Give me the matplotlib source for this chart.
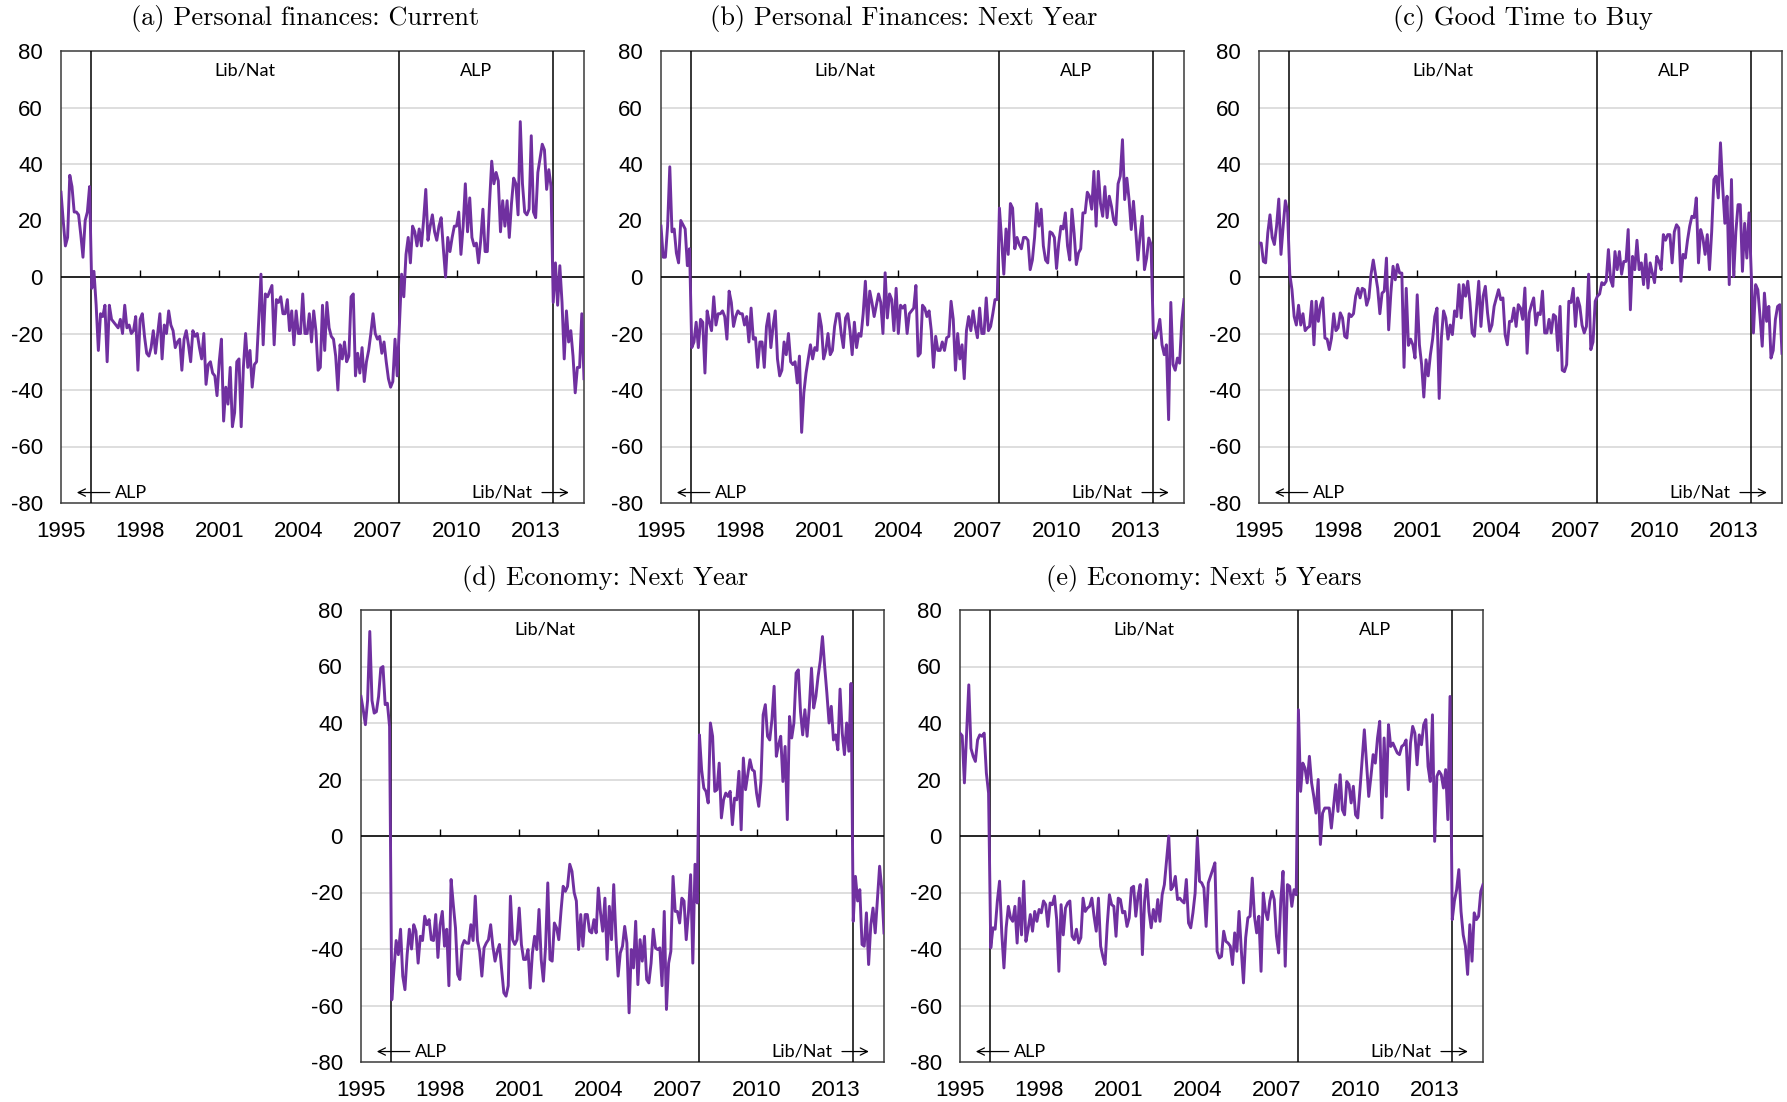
import numpy as np
import matplotlib

matplotlib.use("Agg")

import matplotlib.pyplot as plt

# monthly survey balances (per cent), Jan 1995 onwards
personal_current = [
    30, 20, 11, 14, 36, 32, 23, 23, 22, 15,
    7, 20, 23, 32, -4, 2, -10, -26, -13, -14,
    -10, -30, -10, -15, -16, -17, -18, -15, -20, -10,
    -18, -17, -20, -19, -14, -33, -15, -13, -21, -27,
    -28, -25, -19, -27, -20, -13, -29, -17, -20, -12,
    -17, -19, -25, -23, -22, -33, -22, -19, -24, -30,
    -19, -21, -20, -25, -29, -20, -38, -31, -30, -34,
    -35, -42, -30, -22, -51, -39, -45, -32, -53, -48,
    -30, -29, -53, -32, -20, -32, -26, -39, -31, -30,
    -15, 1, -24, -6, -7, -5, -3, -24, -8, -9,
    -7, -13, -13, -8, -19, -12, -24, -12, -20, -20,
    -6, -20, -20, -13, -23, -12, -19, -33, -32, -10,
    -26, -9, -18, -21, -22, -28, -40, -24, -29, -23,
    -30, -28, -7, -6, -35, -27, -34, -25, -37, -30,
    -26, -20, -13, -20, -22, -21, -27, -23, -30, -36,
    -39, -37, -22, -35, -17, 1, -7, 8, 14, 5,
    18, 16, 11, 17, 11, 20, 31, 13, 18, 22,
    16, 13, 18, 21, 10, 0, 14, 9, 14, 18,
    18, 23, 8, 18, 33, 16, 28, 14, 11, 12,
    5, 13, 24, 9, 9, 26, 41, 33, 37, 34,
    16, 27, 18, 27, 14, 26, 35, 33, 22, 55,
    33, 23, 22, 24, 50, 23, 21, 37, 42, 47,
    45, 31, 38, 32, -9, 5, -10, 4, -9, -29,
    -12, -23, -19, -28, -41, -32, -32, -13, -36,
]

personal_next_year = [
    18, 7, 7, 18, 39, 16, 17, 8.5, 5, 20,
    18.5, 17, 4, 10, -25, -23, -16, -25, -15, -16,
    -34, -12, -16, -19, -7, -17, -13, -13, -12, -14,
    -22, -5, -9, -17.5, -14, -12, -13, -13, -17, -14,
    -23, -11, -22, -21.5, -32, -23, -23, -32, -17.5, -13,
    -25, -17.5, -12, -29, -35, -33, -23, -27.5, -20, -30,
    -31, -30, -37.5, -28, -55, -41, -34, -29, -24, -29,
    -25, -26, -13, -17.5, -29, -26, -20, -27.5, -26, -17.5,
    -13, -13, -20, -25, -14.5, -13, -19, -27.5, -16, -25,
    -20, -21, -13, -1.5, -17, -5, -9, -14, -10, -6,
    -9, -20, 1.5, -14.5, -6, -8, -19, -4, -20, -10,
    -11, -10, -20, -13, -12, -11, -3, -28, -27, -10,
    -11, -14, -12, -19, -32, -21, -26, -26, -23, -26,
    -21.5, -21, -8.6, -15, -33, -20, -29, -24, -36, -19,
    -14, -19, -12, -17.5, -21.5, -11, -20, -20, -7.4, -19,
    -17.5, -13, -8, -8, 24.4, 13, 1, 17, 8, 26,
    24.4, 10, 14, 11.5, 10, 14, 14, 13, 2.6, 6,
    14, 26, 18, 24, 11, 6, 5, 16, 15.5, 14,
    3, 12, 18, 17, 22.7, 11, 6, 24, 15.5, 4.4,
    8.5, 10, 22.7, 22.7, 30, 28.6, 24, 37.4, 18, 37.4,
    26, 21.5, 32, 21, 28.6, 25, 20, 18.5, 33, 35.7,
    48.6, 27.4, 35, 27.4, 16.8, 26.8, 16.8, 6, 14.4, 21.5,
    2.6, 6.7, 13.8, 11.5, -18.7, -21.6, -19, -15, -24, -27.5,
    -24, -50.5, -9, -31, -33, -28.7, -30.5, -15.7, -8,
]

good_time_to_buy = [
    12, 12, 5.5, 5, 15.6, 22, 14, 11.5, 18, 27.6,
    8, 18, 27, 23, 1, -4.5, -14, -17, -10, -17,
    -13, -19, -18, -17.5, -8.6, -24, -8.6, -15.7, -10, -7.4,
    -21.6, -22, -25.7, -21.6, -13, -19, -18, -12.7, -14.5, -21,
    -21.6, -13, -14, -13, -6.8, -4, -7.4, -4, -4.5, -10,
    -7.4, 1, 6, 1, -4, -13, -5.7, -5, 6.7, -18.7,
    -5.7, 3.8, -1, 4.4, 1.4, 1.4, -32, -4, -24.2, -22,
    -24, -28.7, -6.3, -24, -31, -42.5, -29.3, -35, -27.5, -22,
    -14, -11, -43, -21.6, -12, -14.5, -22, -17, -20.4, -12,
    -14, -2.7, -14.5, -2.7, -6.8, -1.5, -9, -19.8, -21, -11,
    -1.5, -17.5, -6.8, -3.3, -12.7, -19.2, -17, -10.4, -7.4, -4.5,
    -8, -7.4, -20.4, -24, -15.7, -15.7, -11, -17.5, -9.8, -11,
    -15, -3.9, -27, -12.7, -9.8, -7.4, -17, -12.7, -13.3, -5,
    -19.8, -19.8, -15, -19.8, -13.3, -14, -26, -10.4, -33, -33.5,
    -31, -8.6, -9, -4, -17.5, -7.4, -10.4, -17, -19.8, -17.5,
    1, -25.7, -23, -8.6, -6.8, -6, -2, -2.7, -1.5, 9.7,
    -1, -3.3, 9, 2.6, 9, 1, 5.5, 5.5, 16.8, -11.6,
    7.3, 2.6, 13, 2.6, 5, -2.7, 8, -3.9, 5, 1.4,
    -2, 7.3, 5.5, 2.6, 15, 13, 15, 15, 5, 16,
    18.5, 17.4, -1.5, 8, 6.7, 13, 18, 21.5, 21, 28,
    5, 16.8, 13.8, 8, 15, 2.6, 16, 34.5, 35.7, 28,
    47.5, 32, 19, 28.6, -2.7, 34.5, 0.2, 16, 25.6, 25.6,
    2, 19, 6.7, 22.7, 1.4, -19.8, -2.7, -4.5, -14, -24.5,
    -5.7, -15.7, -10.4, -28.7, -26, -15, -10.4, -9.8, -27,
]

economy_next_year = [
    49.4, 44.7, 39.4, 48, 72.4, 48, 43.5, 44, 49.4, 59.4,
    60, 46.5, 47, 38.8, -58, -47, -37, -42, -33, -49.6,
    -54.4, -42, -33, -40, -31.4, -33.7, -45, -35.5, -37, -28.4,
    -31.4, -29.6, -36.7, -37, -27.8, -43, -31.4, -26.7, -39, -33,
    -53, -15.4, -24.3, -32.5, -49, -50.8, -39, -37, -37.9, -38,
    -31.4, -37, -21.3, -37, -40.8, -49.6, -39.6, -37.9, -36.7, -31.4,
    -39, -44.3, -40.8, -38.4, -47.3, -55.5, -56.7, -53, -21.3, -36.7,
    -38.4, -36.7, -25.5, -38.4, -43.7, -43.7, -40.2, -53.8, -41.4, -35.5,
    -40.2, -26, -43.7, -51.4, -39, -16.6, -43.7, -44.3, -30.8, -32.5,
    -36.7, -26.7, -17.8, -19.6, -17.8, -10, -12.5, -20, -23, -40.2,
    -27.8, -39, -27.8, -27.8, -33.7, -34.3, -29.6, -34.3, -18.4, -27.2,
    -33.7, -22, -43.7, -24.9, -36.7, -17.2, -35.5, -49.6, -41.4, -39,
    -32, -37.9, -62.6, -40.2, -46.7, -30.2, -52.6, -36.7, -44.3, -35.5,
    -50.8, -52, -45, -33, -39.6, -40.2, -39.6, -53, -26.7, -61.4,
    -45, -40.8, -14.3, -26.7, -26.7, -30.8, -22, -23, -36.7, -27.2,
    -13.7, -45, -10, -23.7, 35.8, 23.5, 17, 15.8, 11.7, 40,
    35.3, 15.8, 16.4, 25.8, 6.4, 12.8, 15.2, 14, 15.8, 4,
    13.4, 12.8, 22.9, 2.2, 27.6, 16.4, 21.7, 27, 23.5, 22.9,
    15.2, 10.5, 19.3, 42.9, 46.5, 35.3, 34, 41.2, 53, 28.2,
    32.3, 35.3, 19.3, 31.7, 5.8, 42.3, 34.7, 40, 57.7, 58.8,
    44, 35.8, 44.7, 35.3, 45.3, 59.4, 45.3, 49.4, 56.5, 62,
    70.6, 60, 50.6, 40, 45.9, 34, 35.8, 30.5, 52, 36.4,
    28.8, 40, 30, 54, -30.2, -14.3, -23, -19, -38.4, -39,
    -27.2, -45.5, -31.4, -25.5, -34.3, -22.5, -10.7, -19, -34.3,
]

economy_next_5_years = [
    36.4, 35.5, 18.8, 36, 53.5, 31, 28.2, 26.4, 34, 35.8,
    35.3, 36.4, 22.3, 15.2, -39.6, -32.5, -33, -23, -16, -34.3,
    -46.7, -32.5, -24.9, -29, -30.2, -24.9, -37.9, -22, -35, -16,
    -37.3, -33, -27.8, -33.7, -26.7, -30.2, -26, -27.2, -23, -24.3,
    -32, -23.7, -24.3, -21.3, -29.6, -47.9, -24.3, -35, -25.5, -23.7,
    -23, -35.5, -36.7, -33, -37.9, -36, -22, -26.7, -25.5, -24.9,
    -22, -28.4, -33.7, -22, -39, -42.6, -45.5, -31.4, -20.8, -24.3,
    -24.9, -35.5, -22, -22.5, -27.2, -26.7, -32, -29, -18.4, -17.8,
    -28.4, -21.3, -17.2, -42, -23, -15.4, -26.7, -32.5, -26, -30.2,
    -22.5, -30.2, -20.8, -17.2, -8.4, 0, -19, -17.8, -14.3, -22.5,
    -22, -23, -23.7, -15.4, -30.8, -32.5, -27.2, -20.2, -0.6, -16,
    -16.6, -18.4, -32, -16.6, -14.3, -11.9, -9.5, -40.8, -43.2, -42.6,
    -33.7, -37.3, -37.9, -39, -45.5, -34.3, -40.8, -26.7, -40.2, -52,
    -36, -29, -28.4, -14.9, -28.4, -34.3, -28.4, -47.9, -20.2, -26.7,
    -29.6, -23, -19.6, -22.5, -35.5, -41.4, -22.5, -12.5, -46.1, -17.2,
    -17.8, -24.9, -19, -20.8, 44.7, 15.8, 25.8, 24, 18.8, 28.2,
    18.8, 14, 8.1, 20, -3, 8.1, 9.9, 9.9, 9.9, 2.8,
    10.5, 18.2, 8.7, 21.7, 9.3, 7.5, 19.3, 18.2, 11.7, 17.6,
    7.5, 6.4, 16.4, 27, 37.6, 26, 14, 21, 28.8, 25.8,
    34.7, 40.6, 6.4, 34.7, 14, 39.4, 31.7, 32.9, 31.1, 29.4,
    28.8, 31.7, 32.3, 34, 16.4, 32.9, 38.8, 36.4, 25.2, 35.8,
    32.3, 39.4, 41.2, 24.6, 19.3, 42.9, -1.9, 21.1, 22.9, 21.7,
    17, 23.5, 5.8, 49.4, -29.6, -23, -19, -11.9, -26.7, -35,
    -39, -49, -31.4, -44.3, -27.2, -29.6, -28.4, -19.6, -17.2,
]

titles = [
    "(a) Personal finances: Current",
    "(b) Personal Finances: Next Year",
    "(c) Good Time to Buy",
    "(d) Economy: Next Year",
    "(e) Economy: Next 5 Years",
]
panels = [personal_current, personal_next_year, good_time_to_buy,
          economy_next_year, economy_next_5_years]

start_year = 1995
year_ticks = [1995, 1998, 2001, 2004, 2007, 2010, 2013]
value_ticks = [-80, -60, -40, -20, 0, 20, 40, 60, 80]
# federal elections: Mar 1996, Nov 2007, Sep 2013
elections = [1996.15, 2007.81, 2013.64]
governments = ["Lib/Nat", "ALP"]

W, H = 1787, 1102
# axes boxes in pixels: left, top
boxes = [(61, 51), (661, 51), (1259, 51), (361, 610), (960, 610)]
box_w, box_h = 523, 452
title_pos = [(305, 19), (904, 19), (1523, 19), (605, 579), (1204, 579)]

purple = "#7030A0"
label_font = "Lato"
tick_font = "Liberation Sans"


def draw_panel(ax, values):
    x = start_year + np.arange(len(values)) / 12.0
    ax.set_xlim(start_year, start_year + (len(values) - 1) / 12.0)
    ax.set_ylim(-80, 80)

    for v in value_ticks:
        if v not in (0, -80, 80):
            ax.axhline(v, color="#d4d4d4", lw=1.1, zorder=1)
    ax.axhline(0, color="black", lw=1.2, zorder=3)
    ax.vlines(year_ticks[1:], 0, 2.5, color="black", lw=1.0, zorder=3)

    for e in elections:
        ax.axvline(e, color="black", lw=1.1, zorder=3)

    ax.plot(x, values, color=purple, lw=2.1, zorder=4, solid_joinstyle="round")

    ax.set_xticks(year_ticks)
    ax.set_xticklabels([str(y) for y in year_ticks])
    ax.set_yticks(value_ticks)
    ax.set_yticklabels([str(v) for v in value_ticks])
    ax.tick_params(axis="both", length=0, labelsize=16)
    ax.tick_params(axis="x", pad=13)
    ax.tick_params(axis="y", pad=13)
    for lab in ax.get_xticklabels() + ax.get_yticklabels():
        lab.set_fontfamily(tick_font)

    for sp in ax.spines.values():
        sp.set_color("#3a3a3a")
        sp.set_linewidth(1.1)

    kw = dict(fontsize=13, family=label_font, color="black", zorder=5)
    ax.text((elections[0] + elections[1]) / 2, 73, governments[0],
            ha="center", va="center", **kw)
    ax.text((elections[1] + elections[2]) / 2, 73, governments[1],
            ha="center", va="center", **kw)

    arrow = dict(arrowstyle="->", lw=0.9, color="black",
                 shrinkA=0, shrinkB=0, mutation_scale=13)
    ax.annotate("", xy=(elections[0] - 0.55, -76.3),
                xytext=(elections[0] + 0.7, -76.3), arrowprops=arrow)
    ax.text(elections[0] + 0.9, -76.3, governments[1],
            ha="left", va="center", **kw)
    ax.annotate("", xy=(elections[2] + 0.62, -76.3),
                xytext=(elections[2] - 0.4, -76.3), arrowprops=arrow)
    ax.text(elections[2] - 0.75, -76.3, governments[0],
            ha="right", va="center", **kw)


def main() -> None:
    for s in panels:
        assert len(s) == 239, len(s)

    fig = plt.figure(figsize=(W / 100, H / 100), dpi=100)
    for (left, top), values, title, (tx, ty) in zip(boxes, panels, titles, title_pos):
        ax = fig.add_axes([left / W, 1 - (top + box_h) / H, box_w / W, box_h / H])
        draw_panel(ax, values)
        fig.text(tx / W, 1 - ty / H, title, ha="center", va="center",
                 family="cmr10", fontsize=19)

    fig.savefig("out.png", dpi=100)
    plt.close(fig)


if __name__ == "__main__":
    main()
